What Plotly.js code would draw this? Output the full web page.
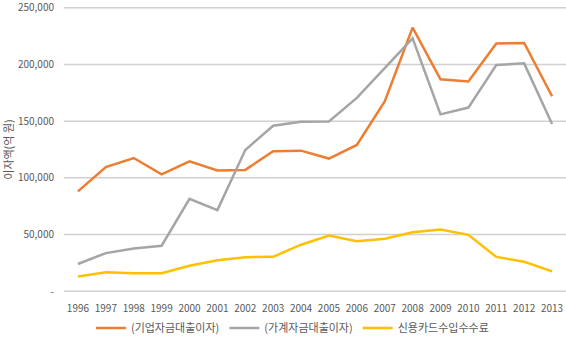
<!DOCTYPE html>
<html>
<head>
<meta charset="utf-8">
<script src="https://cdn.plot.ly/plotly-3.0.1.min.js"></script>
<style>
html,body{margin:0;padding:0;background:#fff;}
#chart{width:566px;height:343px;}
#chart .gridlayer path{shape-rendering:auto !important;}
</style>
</head>
<body>
<div id="chart"></div>
<script>
const years = ['1996','1997','1998','1999','2000','2001','2002','2003','2004','2005','2006','2007','2008','2009','2010','2011','2012','2013'];
const corporateLoanInterest = [88000,109500,117500,103000,114500,106500,107000,123500,124000,117000,129000,167500,232500,187000,185000,218500,219000,172000];
const householdLoanInterest = [24000,33600,37700,40100,81500,71500,124500,146000,149500,149800,170500,197000,223000,156000,162000,199500,201000,147500];
const creditCardFees = [13000,16700,15800,15800,22500,27200,30000,30300,41000,49000,44000,46300,52000,54500,49700,30200,26000,17500];
const seriesNames = ['(기업자금대출이자)','(가계자금대출이자)','신용카드수입수수료'];
const yTickVals = [0,50000,100000,150000,200000,250000];
const yTickText = ['-','50,000','100,000','150,000','200,000','250,000'];

const colors = ['#ED7D31','#A5A5A5','#FFC000'];
const data = [corporateLoanInterest, householdLoanInterest, creditCardFees].map((v,i)=>({
  type:'scatter', mode:'lines', x: years, y: v, name: seriesNames[i],
  line:{color:colors[i], width:2.5}
}));
const font = "'Noto Sans CJK KR', 'Noto Sans', sans-serif";
const layout = {
  width:566, height:343,
  margin:{l:64, r:0, t:5, b:46},
  paper_bgcolor:'#ffffff', plot_bgcolor:'rgba(0,0,0,0)',
  font:{family:font, size:10, color:'#595959'},
  showlegend:true,
  legend:{orientation:'h', x:0.455, xanchor:'center', y:-0.118, yanchor:'middle', font:{size:11, color:'#595959'}, itemwidth:30, tracegroupgap:0},
  xaxis:{type:'category', range:[-0.5,17.5], showgrid:false, zeroline:false, showline:false, ticks:'', ticklabelstandoff:7, tickfont:{size:10, color:'#595959'}, automargin:false},
  yaxis:{range:[-2500,252500], tickmode:'array', tickvals:yTickVals, ticktext:yTickText, showgrid:true, gridcolor:'#D0D0D0', gridwidth:1.5, zeroline:false, showline:false, ticklabelstandoff:9, ticklabeloverflow:'allow', tickfont:{size:10, color:'#595959'}, automargin:false,
    title:{text:'이자액(억 원)', font:{size:11, color:'#595959'}, standoff:8}}
};
Plotly.newPlot('chart', data, layout, {displayModeBar:false, staticPlot:true});
</script>
</body>
</html>
